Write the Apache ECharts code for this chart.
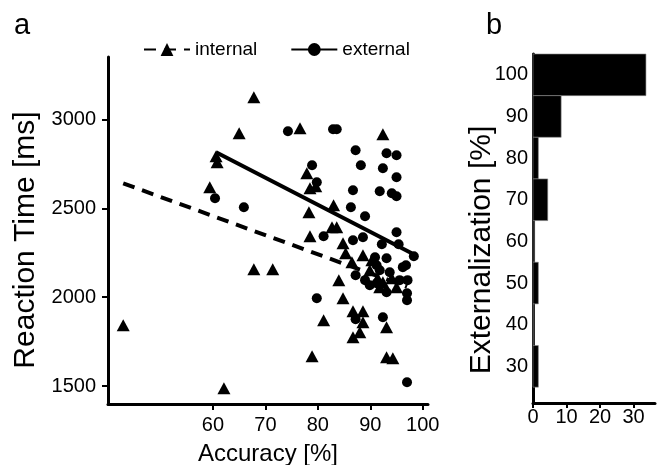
<!DOCTYPE html>
<html>
<head>
<meta charset="utf-8">
<script src="https://cdn.jsdelivr.net/npm/echarts@6/dist/echarts.min.js"></script>
<style>html,body{margin:0;padding:0;background:#fff;}#c{width:665px;height:465px;}</style>
</head>
<body>
<div id="c"></div>
<script>
// ---- data ----
const accuracyTicks = [60, 70, 80, 90, 100];
const rtTicks = [1500, 2000, 2500, 3000];
// internal (triangles): [accuracy %, reaction time ms]
const internalPts = [
  [42.9,1843],[62.1,1489],[67.8,3124],[65.0,2921],[76.6,2949],[60.6,2792],[60.8,2758],
  [59.4,2618],[67.8,2157],[71.4,2157],[92.4,2916],[77.9,2697],[78.5,2612],[79.6,2624],
  [78.3,2478],[83.0,2517],[82.7,2393],[83.6,2393],[78.5,2343],[84.8,2303],[85.3,2247],
  [88.6,2236],[86.5,2197],[90.3,2208],[89.9,2152],[91.4,2107],[92.4,2084],[94.1,2107],
  [91.8,2056],[95.0,2056],[84.0,2096],[84.8,1994],[81.1,1871],[86.7,1921],[88.6,1921],
  [88.6,1860],[88.0,1803],[86.7,1775],[93.1,1831],[78.9,1669],[93.1,1663],[94.3,1657]
];
// external (circles)
const externalPts = [
  [74.3,2933],[60.4,2556],[65.9,2506],[82.9,2944],[83.6,2944],[87.2,2826],[93.1,2809],
  [95.0,2798],[88.2,2742],[92.4,2725],[95.0,2674],[78.9,2742],[79.8,2646],[86.7,2601],
  [91.8,2596],[94.1,2584],[95.0,2567],[86.3,2506],[89.0,2455],[95.0,2365],[81.1,2343],
  [86.7,2320],[88.6,2337],[92.2,2298],[95.4,2298],[98.3,2230],[96.8,2180],[90.9,2225],
  [93.1,2219],[91.2,2180],[91.8,2152],[93.7,2140],[87.2,2124],[89.0,2096],[95.6,2096],
  [97.1,2096],[89.9,2067],[91.2,2079],[93.1,2028],[97.0,2022],[97.0,1983],[79.8,1994],
  [87.2,1876],[92.4,1888],[97.0,1522],[96.2,2169]
];
const internalFit = [[42.9,2640],[97.0,2059]];
const externalFit = [[60.6,2815],[97.9,2247]];
// panel b: externalization bins [%] and share of participants [%]
const extBins = [100, 90, 80, 70, 60, 50, 40, 30];
const extShare = [33.7, 8.4, 1.6, 4.4, 0.5, 1.6, 0.3, 1.6];
const extTicks = [30, 40, 50, 60, 70, 80, 90, 100];
const shareTicks = [0, 10, 20, 30];

const FONT = "'Liberation Sans', Arial, sans-serif";
const axLine = {show: true, lineStyle: {color: '#000', width: 3}};
const plain = v => String(v);

const chart = echarts.init(document.getElementById('c'), null, {renderer: 'canvas'});
chart.setOption({
  backgroundColor: '#fff',
  animation: false,
  textStyle: {fontFamily: FONT, color: '#000'},
  graphic: [
    {type: 'text', left: 14, top: 11, style: {text: 'a', font: '29px ' + FONT, fill: '#000'}},
    {type: 'text', left: 486, top: 11, style: {text: 'b', font: '29px ' + FONT, fill: '#000'}},
    {type: 'text', x: 26, y: 240, rotation: Math.PI / 2,
     style: {text: 'Reaction Time [ms]', font: '30px ' + FONT, fill: '#000', align: 'center', verticalAlign: 'middle'}},
    {type: 'text', x: 482, y: 250, rotation: Math.PI / 2,
     style: {text: 'Externalization [%]', font: '30px ' + FONT, fill: '#000', align: 'center', verticalAlign: 'middle'}}
  ],
  legend: {
    data: ['internal', 'external'],
    left: 138, top: 35,
    itemWidth: 46, itemHeight: 16, itemGap: 33, itemTextGap: 4,
    textStyle: {fontSize: 19, fontFamily: FONT, color: '#000'}
  },
  grid: [
    {left: 108, right: 237, top: 57, bottom: 61, outerBoundsMode: 'none', containLabel: false},
    {left: 533, right: 10, top: 54, bottom: 62, outerBoundsMode: 'none', containLabel: false}
  ],
  xAxis: [
    {
      gridIndex: 0, type: 'value', min: 40, max: 101,
      name: 'Accuracy [%]', nameLocation: 'middle', nameGap: 38,
      nameTextStyle: {fontSize: 24, fontFamily: FONT, color: '#000'},
      axisLine: axLine, splitLine: {show: false},
      axisTick: {show: true, length: 6, customValues: accuracyTicks, lineStyle: {color: '#000', width: 2}},
      axisLabel: {customValues: accuracyTicks, formatter: plain, fontSize: 20, fontFamily: FONT, color: '#000', margin: 11}
    },
    {
      gridIndex: 1, type: 'value', min: 0, max: 36.4,
      axisLine: axLine, splitLine: {show: false},
      axisTick: {show: true, length: 5, customValues: shareTicks, lineStyle: {color: '#000', width: 2}},
      axisLabel: {customValues: shareTicks, formatter: plain, fontSize: 20, fontFamily: FONT, color: '#000', margin: 4}
    }
  ],
  yAxis: [
    {
      gridIndex: 0, type: 'value', min: 1400, max: 3350,
      axisLine: axLine, splitLine: {show: false},
      axisTick: {show: true, length: 6, customValues: rtTicks, lineStyle: {color: '#000', width: 2}},
      axisLabel: {customValues: rtTicks, formatter: plain, fontSize: 20, fontFamily: FONT, color: '#000', margin: 12}
    },
    {
      gridIndex: 1, type: 'value', min: 21.2, max: 105,
      axisLine: axLine, splitLine: {show: false},
      axisTick: {show: false},
      axisLabel: {customValues: extTicks, formatter: plain, fontSize: 20, fontFamily: FONT, color: '#000', margin: 5}
    }
  ],
  series: [
    {
      name: 'internal pts', type: 'scatter', xAxisIndex: 0, yAxisIndex: 0,
      symbol: 'triangle', symbolSize: [13, 12], itemStyle: {color: '#000', opacity: 1},
      data: internalPts, z: 3
    },
    {
      name: 'external pts', type: 'scatter', xAxisIndex: 0, yAxisIndex: 0,
      symbol: 'circle', symbolSize: 10, itemStyle: {color: '#000', opacity: 1},
      data: externalPts, z: 3
    },
    {
      name: 'internal', type: 'line', xAxisIndex: 0, yAxisIndex: 0,
      symbol: 'triangle', showSymbol: false, symbolSize: 12,
      itemStyle: {color: '#000'},
      lineStyle: {color: '#000', width: 4, type: [12, 8]},
      data: internalFit, z: 4
    },
    {
      name: 'external', type: 'line', xAxisIndex: 0, yAxisIndex: 0,
      symbol: 'circle', showSymbol: false, symbolSize: 12,
      itemStyle: {color: '#000'},
      lineStyle: {color: '#000', width: 4},
      data: externalFit, z: 4
    },
    {
      name: 'externalization', type: 'custom', xAxisIndex: 1, yAxisIndex: 1,
      data: extBins.map((b, i) => [extShare[i], b]),
      encode: {x: 0, y: 1},
      renderItem: function (params, api) {
        const v = api.value(0), b = api.value(1);
        const p1 = api.coord([0, b + 5]);
        const p2 = api.coord([v, b - 5]);
        return {
          type: 'rect',
          shape: {x: p1[0], y: p1[1], width: p2[0] - p1[0], height: p2[1] - p1[1]},
          style: {fill: '#000', stroke: '#888', lineWidth: 0.6}
        };
      }
    }
  ]
});
</script>
</body>
</html>
